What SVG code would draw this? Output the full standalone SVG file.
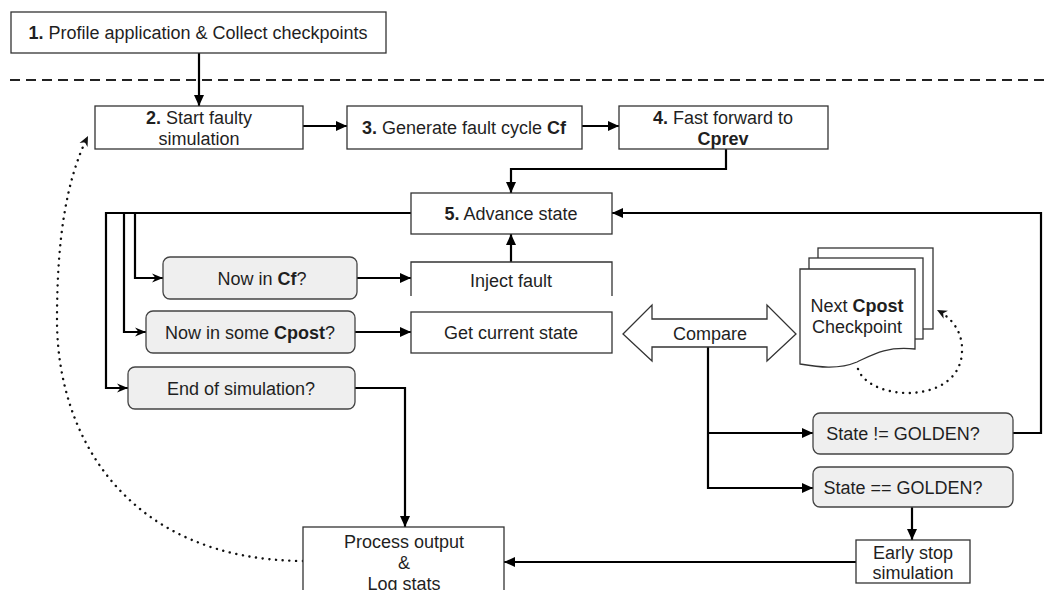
<svg xmlns="http://www.w3.org/2000/svg" width="1046" height="590" viewBox="0 0 1046 590">
<defs>
<style>
text{font-family:"Liberation Sans",Arial,sans-serif;font-size:18px;fill:#1f1f1f;text-anchor:middle}
.b{font-weight:bold}
.box{fill:#fff;stroke:#333;stroke-width:1.3}
.dec{fill:#efefef;stroke:#444;stroke-width:1.3}
.c{fill:none;stroke:#000;stroke-width:2.2}
.dot{fill:none;stroke:#111;stroke-width:2.4;stroke-linecap:round;stroke-dasharray:0.1 6.6}
</style>
<marker id="a" markerUnits="userSpaceOnUse" markerWidth="12" markerHeight="10" refX="11" refY="5" orient="auto"><path d="M0,0 L11,5 L0,10 Z" fill="#000"/></marker>
<marker id="s" markerUnits="userSpaceOnUse" markerWidth="12" markerHeight="10" refX="11" refY="5" orient="auto"><path d="M0,0.5 L11,5 L0,9.5 L3.5,5 Z" fill="#000"/></marker>
<marker id="d" markerUnits="userSpaceOnUse" markerWidth="12" markerHeight="10" refX="10" refY="5" orient="auto"><path d="M0,0.5 L10,5 L0,9.5 L3,5 Z" fill="#111"/></marker>
</defs>

<line x1="10" y1="80" x2="1046" y2="80" stroke="#222" stroke-width="2" stroke-dasharray="10 6"/>

<g id="connectors">
<path class="c" d="M199,53 V106" marker-end="url(#a)"/>
<path class="c" d="M303,126 H347" marker-end="url(#a)"/>
<path class="c" d="M582,126 H619" marker-end="url(#a)"/>
<path class="c" d="M726,149 V169 H511 V193" marker-end="url(#a)"/>
<path class="c" d="M511,262 V234" marker-end="url(#a)"/>
<path class="c" d="M411,213 H135 V278 H163" marker-end="url(#s)"/>
<path class="c" d="M411,213 H124 V332 H146" marker-end="url(#s)"/>
<path class="c" d="M411,213 H106 V388 H128" marker-end="url(#s)"/>
<path class="c" d="M357,278 H411" marker-end="url(#a)"/>
<path class="c" d="M355,332 H411" marker-end="url(#a)"/>
<path class="c" d="M355,388 H405 V527" marker-end="url(#a)"/>
<path class="c" d="M708,347 V488 H813" marker-end="url(#a)"/>
<path class="c" d="M708,433 H813" marker-end="url(#a)"/>
<path class="c" d="M1013,433 H1041 V213 H612" marker-end="url(#a)"/>
<path class="c" d="M912,507 V540" marker-end="url(#a)"/>
<path class="c" d="M856,562 H504" marker-end="url(#a)"/>
<path class="dot" d="M303,561 C130,560 57,440 57,320 C57,240 66,180 88,136" marker-end="url(#d)"/>
<path class="dot" d="M858,369 C870,402 960,405 962,352 C963,332 952,318 937,310" marker-end="url(#d)"/>
</g>

<g id="n1"><rect class="box" x="11" y="12" width="375" height="41"/><text x="198" y="39"><tspan class="b">1.</tspan> Profile application &amp; Collect checkpoints</text></g>
<g id="n2"><rect class="box" x="95" y="106" width="208" height="43"/><text x="199" y="124"><tspan class="b">2.</tspan> Start faulty</text><text x="199" y="145">simulation</text></g>
<g id="n3"><rect class="box" x="347" y="106" width="235" height="43"/><text x="464" y="134"><tspan class="b">3.</tspan> Generate fault cycle <tspan class="b">Cf</tspan></text></g>
<g id="n4"><rect class="box" x="619" y="106" width="209" height="43"/><text x="723" y="124"><tspan class="b">4.</tspan> Fast forward to</text><text x="723" y="145" class="b">Cprev</text></g>
<g id="n5"><rect class="box" x="411" y="193" width="201" height="41"/><text x="511" y="220"><tspan class="b">5.</tspan> Advance state</text></g>
<g id="inject"><path d="M411,296 V262 H612 V296" fill="#fff" stroke="#333" stroke-width="1.3"/><text x="511" y="287">Inject fault</text></g>
<g id="getstate"><rect class="box" x="411" y="312" width="201" height="41"/><text x="511" y="339">Get current state</text></g>
<g id="nowcf"><rect class="dec" x="163" y="257" width="194" height="42" rx="7"/><text x="262" y="285">Now in <tspan class="b">Cf</tspan>?</text></g>
<g id="nowcpost"><rect class="dec" x="146" y="311" width="209" height="42" rx="7"/><text x="250" y="339">Now in some <tspan class="b">Cpost</tspan>?</text></g>
<g id="endsim"><rect class="dec" x="128" y="367" width="227" height="42" rx="7"/><text x="241" y="395">End of simulation?</text></g>
<g id="compare"><polygon points="623,334 652,305 652,319 767,319 767,305 796,334 767,361 767,347 652,347 652,361" fill="#fff" stroke="#333" stroke-width="1.3"/><text x="710" y="340">Compare</text></g>
<g id="checkpoint">
<rect x="818" y="248" width="115" height="81" fill="#fff" stroke="#333" stroke-width="1.3"/>
<rect x="809" y="258" width="114" height="81" fill="#fff" stroke="#333" stroke-width="1.3"/>
<path d="M800,269 H915 V349 C885,346 872,355 857,362 C838,370 818,367 800,364 Z" fill="#fff" stroke="#333" stroke-width="1.3"/>
<text x="857" y="312">Next <tspan class="b">Cpost</tspan></text><text x="857" y="333">Checkpoint</text>
</g>
<g id="neq"><rect class="dec" x="813" y="413" width="200" height="41" rx="7"/><text x="903" y="440">State != GOLDEN?</text></g>
<g id="eq"><rect class="dec" x="813" y="467" width="200" height="40" rx="7"/><text x="903" y="494">State == GOLDEN?</text></g>
<g id="early"><rect class="box" x="856" y="540" width="114" height="43"/><text x="913" y="559">Early stop</text><text x="913" y="579">simulation</text></g>
<g id="process"><rect class="box" x="303" y="527" width="201" height="80"/><text x="404" y="548">Process output</text><text x="404" y="569">&amp;</text><text x="404" y="590">Log stats</text></g>
</svg>
